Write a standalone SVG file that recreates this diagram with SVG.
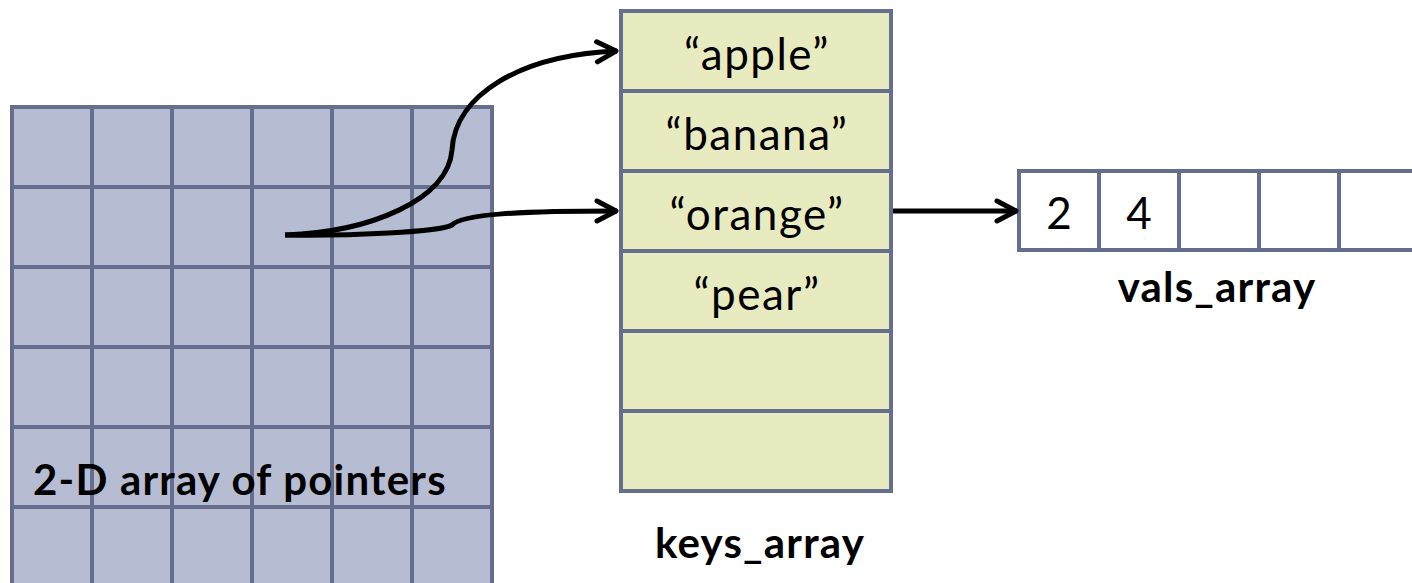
<svg xmlns="http://www.w3.org/2000/svg" width="1412" height="583" viewBox="0 0 1412 583">
<defs>
<style>
.grid{fill:#b6bdd2;stroke:#666e8d;stroke-width:4}
.key{fill:#e8eac0;stroke:#666e8d;stroke-width:4}
.val{fill:#ffffff;stroke:#666e8d;stroke-width:4}
.t{font-family:Lato,"Liberation Sans",sans-serif;font-size:44px;letter-spacing:1.5px;fill:#000;text-anchor:middle}
.n{font-family:Lato,"Liberation Sans",sans-serif;font-size:44px;fill:#000;text-anchor:middle}
.b{font-family:Lato,"Liberation Sans",sans-serif;font-size:42px;font-weight:bold;letter-spacing:1.2px;fill:#000}
.c{fill:none;stroke:#000;stroke-width:5}
</style>
<marker id="ah" markerUnits="userSpaceOnUse" viewBox="-26 -16 30 32" markerWidth="30" markerHeight="32" refX="0" refY="0" orient="auto">
<path d="M-20,-10 L-1,0 L-20,10" fill="none" stroke="#000" stroke-width="5" stroke-linecap="round" stroke-linejoin="round"/>
</marker>
</defs>
<rect width="1412" height="583" fill="#fff"/>
<g id="grid2d">
<rect class="grid" x="12" y="107" width="480" height="490"/>
<path class="grid" fill="none" d="M92,107V583M172,107V583M252,107V583M332,107V583M412,107V583M12,187H492M12,267H492M12,347H492M12,427H492M12,507H492"/>
<text class="b" x="33" y="495" text-anchor="start">2-D array of pointers</text>
</g>
<g id="keys_array">
<rect class="key" x="621" y="11" width="270" height="480"/>
<path class="key" d="M621,91H891M621,171H891M621,251H891M621,331H891M621,411H891"/>
<text class="t" x="757" y="70">“apple”</text>
<text class="t" x="757" y="150">“banana”</text>
<text class="t" x="757" y="230">“orange”</text>
<text class="t" x="757" y="310">“pear”</text>
<text class="b" x="760" y="558" text-anchor="middle">keys_array</text>
</g>
<g id="vals_array">
<rect class="val" x="1019" y="171" width="420" height="79"/>
<path class="val" d="M1099,171V250M1179,171V250M1259,171V250M1339,171V250"/>
<text class="n" x="1059" y="229">2</text>
<text class="n" x="1139" y="229">4</text>
<text class="b" x="1217" y="302" text-anchor="middle">vals_array</text>
</g>
<g id="connectors">
<path class="c" d="M285,235 C370,232 448,200 452,150 C455,95 520,55 617,51" marker-end="url(#ah)"/>
<path class="c" d="M285,235 C350,236 440,232 452,225 C462,214 520,211 617,211" marker-end="url(#ah)"/>
<path class="c" d="M893,211 H1017" marker-end="url(#ah)"/>
</g>
</svg>
